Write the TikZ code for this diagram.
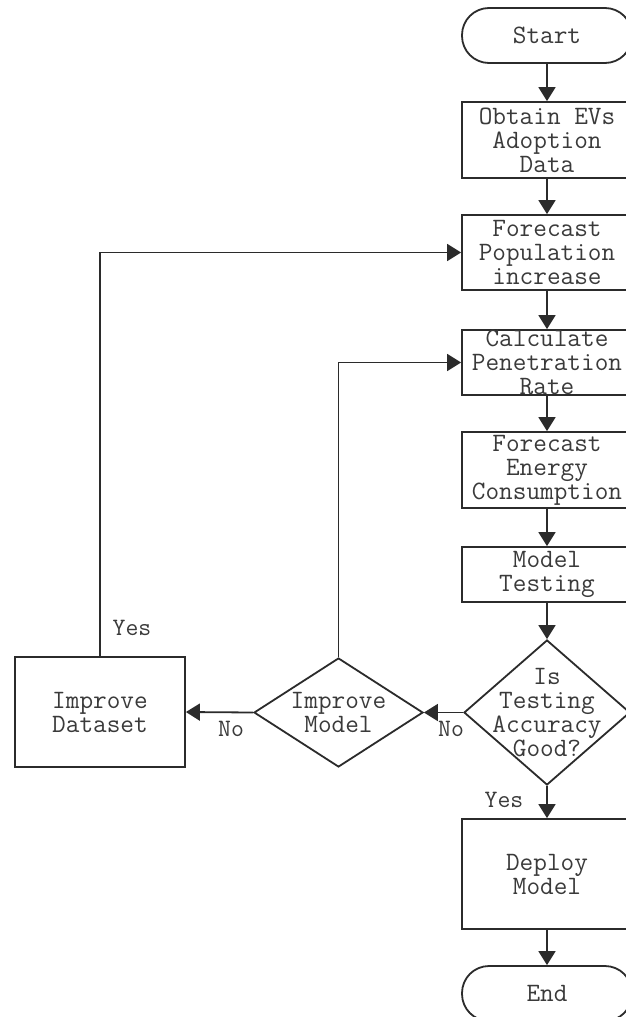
\documentclass[tikz,border=0pt]{standalone}
\usepackage{fontspec}
\usetikzlibrary{arrows.meta,shapes.geometric}
\definecolor{ink}{HTML}{2B2B2B}
\definecolor{txt}{HTML}{3A3A3A}
\tikzset{
  x=1pt, y=-1pt,
  base/.style={draw=ink, line width=1.8pt, inner sep=0pt, text=txt,
    font=\ttfamily\fontsize{26.5}{24}\selectfont, align=center},
  stadium/.style={base, rectangle, rounded corners=27pt, minimum width=170pt, minimum height=55pt},
  procbox/.style={base, rectangle, minimum width=170pt},
  decision/.style={draw=ink, line width=1.8pt, diamond, inner sep=0pt},
  dtext/.style={text=txt, font=\ttfamily\fontsize{26.5}{24}\selectfont, align=center, inner sep=0pt},
  lbl/.style={text=txt, font=\ttfamily\fontsize{25}{24}\selectfont, inner sep=0pt},
  flow/.style={draw=ink, line width=1.8pt, -{Triangle[length=14pt,width=17pt]}},
}
\begin{document}
\begin{tikzpicture}
\clip (0,0) rectangle (626,1017);
\fill[white] (0,0) rectangle (626,1017);

\node[stadium] (start) at (547,35.5) {Start};
\node[procbox, minimum height=76pt] (b1) at (547,140) {Obtain EVs\\Adoption\\Data};
\node[procbox, minimum height=75pt] (b2) at (547,252.5) {Forecast\\Population\\increase};
\node[procbox, minimum height=65pt] (b3) at (547,362.5) {Calculate\\Penetration\\Rate};
\node[procbox, minimum height=76pt] (b4) at (547,470) {Forecast\\Energy\\Consumption};
\node[procbox, minimum height=55pt] (b5) at (547,574.5) {Model\\Testing};

\node[decision, minimum width=166pt, minimum height=145pt] (d1) at (547,712.5) {};
\node[dtext] (d1t) at (547,713) {Is\\Testing\\Accuracy\\Good?};

\node[decision, minimum width=169pt, minimum height=109pt] (d2) at (338.5,712.5) {};
\node[dtext] (d2t) at (338.5,712.5) {Improve\\Model};

\node[procbox, minimum width=170pt, minimum height=110pt] (ds) at (100,712) {Improve\\Dataset};

\node[procbox, minimum height=110pt] (dep) at (547,874) {Deploy\\Model};
\node[stadium] (stop) at (547,993.5) {End};

\draw[flow] (start) -- (b1);
\draw[flow] (b1) -- (b2);
\draw[flow] (b2) -- (b3);
\draw[flow] (b3) -- (b4);
\draw[flow] (b4) -- (b5);
\draw[flow] (b5) -- (d1);
\draw[flow] (d1) -- (dep);
\draw[flow] (dep) -- (stop);
\draw[flow] (d1.west) -- (d2.east);
\draw[flow] (d2.west) -- (ds.east);
\draw[flow] (d2.north) |- (b3.west);
\draw[flow] (ds.north) |- (b2.west);

\node[lbl] (yes1) at (132,628) {Yes};
\node[lbl] (no1) at (231,729) {No};
\node[lbl] (no2) at (451,729) {No};
\node[lbl] (yes2) at (504,800) {Yes};
\end{tikzpicture}
\end{document}
